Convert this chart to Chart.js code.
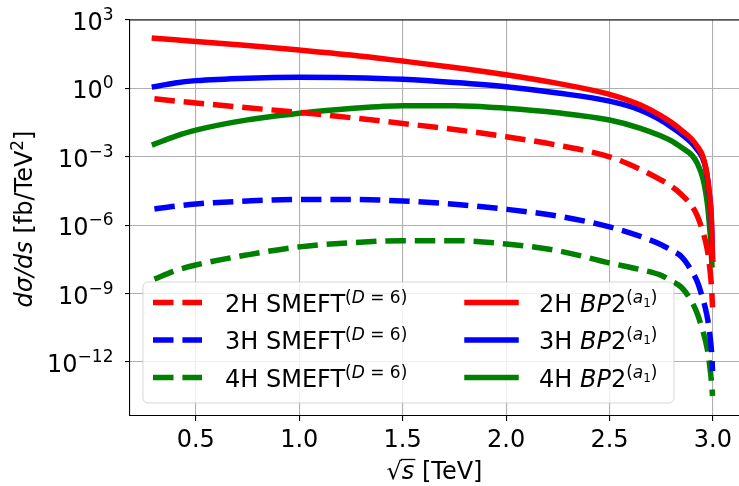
<!DOCTYPE html>
<html>
<head>
<meta charset="utf-8">
<script src="https://cdn.jsdelivr.net/npm/chart.js@4.4.0/dist/chart.umd.min.js"></script>
<style>
  html, body { margin: 0; padding: 0; background: #fff; }
  #wrap { width: 739px; height: 486px; }
</style>
</head>
<body>
<div id="wrap"><canvas id="chart" width="739" height="486"></canvas></div>
<script>
// ==================== DATA ====================
const sqrtS = [0.3, 0.4, 0.5, 0.75, 1.0, 1.25, 1.5, 1.75, 2.0, 2.25, 2.5, 2.65, 2.75, 2.8, 2.85, 2.9, 2.925, 2.95, 2.965, 2.975, 2.985, 2.99, 2.995, 2.998];

// 2H / 3H / 4H, SMEFT (D=6)
const smeft2H = [0.35, 0.28, 0.23, 0.141, 0.089, 0.052, 0.029, 0.0158, 7.6e-3, 3.2e-3, 1.0e-3, 2.8e-4, 9.5e-5, 5.0e-5, 2.1e-5, 6.5e-6, 2.5e-6, 5.6e-7, 1.8e-7, 6.3e-8, 1.26e-8, 4.5e-9, 1.0e-9, 2.5e-10];
const smeft3H = [5.1e-6, 6.8e-6, 8.5e-6, 1.15e-5, 1.35e-5, 1.35e-5, 1.15e-5, 8.3e-6, 5.0e-6, 2.5e-6, 8.5e-7, 3.2e-7, 1.4e-7, 7.9e-8, 4.0e-8, 8.9e-9, 3.2e-9, 6.3e-10, 2.0e-10, 7.1e-11, 1.6e-11, 6.3e-12, 1.6e-12, 4.0e-13];
const smeft4H = [4.3e-9, 1.0e-8, 1.8e-8, 5.0e-8, 1.12e-7, 1.7e-7, 2.1e-7, 2.1e-7, 1.5e-7, 7.6e-8, 2.2e-8, 1.12e-8, 6.3e-9, 3.5e-9, 1.8e-9, 4.0e-10, 1.26e-10, 2.5e-11, 7.9e-12, 2.8e-12, 6.3e-13, 2.5e-13, 7.9e-14, 3.2e-14];

// 2H / 3H / 4H, BP2 (a1)
const bp2_2H = [160, 135, 115, 76, 48, 29, 15.8, 8.3, 4.0, 1.66, 0.55, 0.186, 0.063, 0.0316, 0.0141, 5.6e-3, 2.8e-3, 1.12e-3, 3.5e-4, 1.0e-4, 1.6e-5, 5.0e-6, 4.0e-7, 3.2e-8];
const bp2_3H = [1.19, 1.74, 2.19, 2.82, 3.09, 2.95, 2.51, 1.82, 1.19, 0.63, 0.275, 0.112, 0.040, 0.020, 9.5e-3, 3.8e-3, 2.0e-3, 8.9e-4, 3.2e-4, 8.9e-5, 1.4e-5, 4.5e-6, 3.5e-7, 3.2e-8];
const bp2_4H = [3.6e-3, 7.9e-3, 0.0148, 0.0417, 0.081, 0.132, 0.174, 0.174, 0.135, 0.085, 0.041, 0.0178, 8.1e-3, 5.0e-3, 2.5e-3, 1.12e-3, 5.0e-4, 1.26e-4, 2.8e-5, 6.3e-6, 6.3e-7, 1.6e-7, 1.8e-8, null];

const xTicks = [0.5, 1.0, 1.5, 2.0, 2.5, 3.0];
const yTickExp = [3, 0, -3, -6, -9, -12];

// ==================== STYLE ====================
const FONT = '"DejaVu Sans", sans-serif';
const RED = '#ff0000', BLUE = '#0000ff', GREEN = '#008000';
const LW = 5.5;
const DASH = [20.5, 8.9];

function pts(arr) {
    return sqrtS.map((s, i) => ({ x: s, y: arr[i] }));
}

function line(label, arr, color, dashed) {
    return {
        label: label,
        data: pts(arr),
        borderColor: color,
        backgroundColor: color,
        borderWidth: LW,
        borderDash: dashed ? DASH : [],
        borderCapStyle: dashed ? 'butt' : 'square',
        pointRadius: 0,
        cubicInterpolationMode: 'monotone',
        spanGaps: false,
        fill: false,
    };
}

// rich text: parts = [{t, size, it, dy}]
function richWidth(ctx, parts) {
    let w = 0;
    for (const p of parts) {
        ctx.font = (p.it ? 'italic ' : '') + p.size + 'px ' + FONT;
        w += ctx.measureText(p.t).width;
    }
    return w;
}
function drawRich(ctx, parts, x, y) {
    for (const p of parts) {
        ctx.font = (p.it ? 'italic ' : '') + p.size + 'px ' + FONT;
        ctx.fillText(p.t, x, y - (p.dy || 0));
        x += ctx.measureText(p.t).width;
    }
    return x;
}

const BIG = 24, SUP = 17, SUB = 12, RAISE = 9;

function smeftLabel(n) {
    return [
        { t: n + 'H SMEFT', size: BIG },
        { t: '(', size: SUP, dy: RAISE },
        { t: 'D', size: SUP, it: true, dy: RAISE },
        { t: ' = ', size: SUP, dy: RAISE },
        { t: '6)', size: SUP, dy: RAISE },
    ];
}
function bp2Label(n) {
    return [
        { t: n + 'H ', size: BIG },
        { t: 'BP', size: BIG, it: true },
        { t: '2', size: BIG },
        { t: '(', size: SUP, dy: RAISE },
        { t: 'a', size: SUP, it: true, dy: RAISE },
        { t: '1', size: SUB, dy: RAISE - 4 },
        { t: ')', size: SUP, dy: RAISE },
    ];
}

const legendCols = [
    [
        { color: RED, dashed: true, parts: smeftLabel(2) },
        { color: BLUE, dashed: true, parts: smeftLabel(3) },
        { color: GREEN, dashed: true, parts: smeftLabel(4) },
    ],
    [
        { color: RED, dashed: false, parts: bp2Label(2) },
        { color: BLUE, dashed: false, parts: bp2Label(3) },
        { color: GREEN, dashed: false, parts: bp2Label(4) },
    ],
];

// ==================== PLUGINS ====================
const decorPlugin = {
    id: 'decor',
    afterDatasetsDraw(chart) {
        const ctx = chart.ctx;
        const ca = chart.chartArea;

        // legend box (lower left, two columns)
        const bx = ca.left + 13, bw = 531, bh = 121, by = ca.bottom - 13 - bh;
        ctx.save();
        ctx.beginPath();
        ctx.roundRect(bx, by, bw, bh, 5);
        ctx.fillStyle = 'rgba(255,255,255,0.8)';
        ctx.fill();
        ctx.lineWidth = 1;
        ctx.strokeStyle = 'rgba(204,204,204,0.8)';
        ctx.stroke();

        const rowY = [20.5, 58, 95.5];
        const handleX = [bx + 10, bx + 324];
        const textX = [bx + 82, bx + 396];
        ctx.textBaseline = 'alphabetic';
        ctx.textAlign = 'left';
        legendCols.forEach((col, c) => {
            col.forEach((item, i) => {
                const yy = by + rowY[i];
                ctx.beginPath();
                ctx.strokeStyle = item.color;
                ctx.lineWidth = LW;
                ctx.setLineDash(item.dashed ? DASH : []);
                ctx.lineCap = item.dashed ? 'butt' : 'square';
                ctx.moveTo(handleX[c], yy);
                ctx.lineTo(handleX[c] + 49, yy);
                ctx.stroke();
                ctx.setLineDash([]);
                ctx.fillStyle = '#000';
                drawRich(ctx, item.parts, textX[c], yy + 9);
            });
        });
        ctx.restore();
    },
    afterDraw(chart) {
        const ctx = chart.ctx;
        const ca = chart.chartArea;
        const yScale = chart.scales.y;
        ctx.save();

        // top spine
        ctx.strokeStyle = '#000';
        ctx.lineWidth = 1.1;
        ctx.beginPath();
        ctx.moveTo(ca.left, ca.top);
        ctx.lineTo(ca.right, ca.top);
        ctx.stroke();

        ctx.fillStyle = '#000';
        ctx.textBaseline = 'alphabetic';
        ctx.textAlign = 'left';

        // y tick labels 10^n
        yTickExp.forEach(e => {
            const py = yScale.getPixelForValue(Math.pow(10, e));
            const parts = [
                { t: '10', size: BIG },
                { t: (e < 0 ? '\u2212' : '') + Math.abs(e), size: SUP, dy: RAISE + 1 },
            ];
            const w = richWidth(ctx, parts);
            drawRich(ctx, parts, ca.left - 16.5 - w, py + 10);
        });

        // x axis title: sqrt(s) [TeV]
        const xParts1 = [{ t: '\u221A', size: BIG }];
        const xParts2 = [{ t: 's', size: BIG, it: true }];
        const xParts3 = [{ t: ' [TeV]', size: BIG }];
        const totalW = richWidth(ctx, xParts1) + richWidth(ctx, xParts2) + richWidth(ctx, xParts3);
        const x0 = (ca.left + ca.right) / 2 - totalW / 2;
        const baseY = 479;
        const x1 = drawRich(ctx, xParts1, x0, baseY);
        const x2 = drawRich(ctx, xParts2, x1, baseY);
        ctx.beginPath();
        ctx.lineWidth = 1.3;
        ctx.moveTo(x1 - 1, baseY - 19.5);
        ctx.lineTo(x2 + 1, baseY - 19.5);
        ctx.stroke();
        drawRich(ctx, xParts3, x2, baseY);

        // y axis title: dσ/ds [fb/TeV^2]
        const yParts = [
            { t: 'd\u03C3/ds', size: BIG, it: true },
            { t: ' [fb/TeV', size: BIG },
            { t: '2', size: SUP, dy: RAISE },
            { t: ']', size: BIG },
        ];
        const yw = richWidth(ctx, yParts);
        ctx.translate(32, (ca.top + ca.bottom) / 2 + 1);
        ctx.rotate(-Math.PI / 2);
        drawRich(ctx, yParts, -yw / 2, 0);
        ctx.restore();
    }
};

// ==================== CHART ====================
const chart = new Chart(document.getElementById('chart').getContext('2d'), {
    type: 'line',
    data: {
        datasets: [
            line('2H SMEFT', smeft2H, RED, true),
            line('3H SMEFT', smeft3H, BLUE, true),
            line('4H SMEFT', smeft4H, GREEN, true),
            line('2H BP2', bp2_2H, RED, false),
            line('3H BP2', bp2_3H, BLUE, false),
            line('4H BP2', bp2_4H, GREEN, false),
        ]
    },
    options: {
        responsive: false,
        animation: false,
        devicePixelRatio: 1,
        layout: { padding: { top: 20, right: 0, left: 0, bottom: 0 } },
        plugins: {
            legend: { display: false },
            tooltip: { enabled: false },
        },
        scales: {
            x: {
                type: 'linear',
                min: 0.182,
                max: 3.126,
                afterBuildTicks: (scale) => { scale.ticks = xTicks.map(v => ({ value: v })); },
                afterFit: (scale) => { scale.height = 70; },
                grid: { color: '#b0b0b0', lineWidth: 1.1, tickColor: '#000', tickLength: 5 },
                border: { color: '#000', width: 1.1 },
                ticks: {
                    color: '#000',
                    padding: 5,
                    maxRotation: 0,
                    font: { family: FONT, size: 24 },
                    callback: (v) => v.toFixed(1),
                },
            },
            y: {
                type: 'logarithmic',
                min: Math.pow(10, -14.37),
                max: 1000,
                afterBuildTicks: (scale) => { scale.ticks = yTickExp.map(e => ({ value: Math.pow(10, e) })); },
                afterFit: (scale) => { scale.width = 130; },
                grid: { color: '#b0b0b0', lineWidth: 1.1, tickColor: '#000', tickLength: 5 },
                border: { color: '#000', width: 1.1 },
                ticks: { display: false },
            }
        }
    },
    plugins: [decorPlugin]
});
</script>
</body>
</html>
